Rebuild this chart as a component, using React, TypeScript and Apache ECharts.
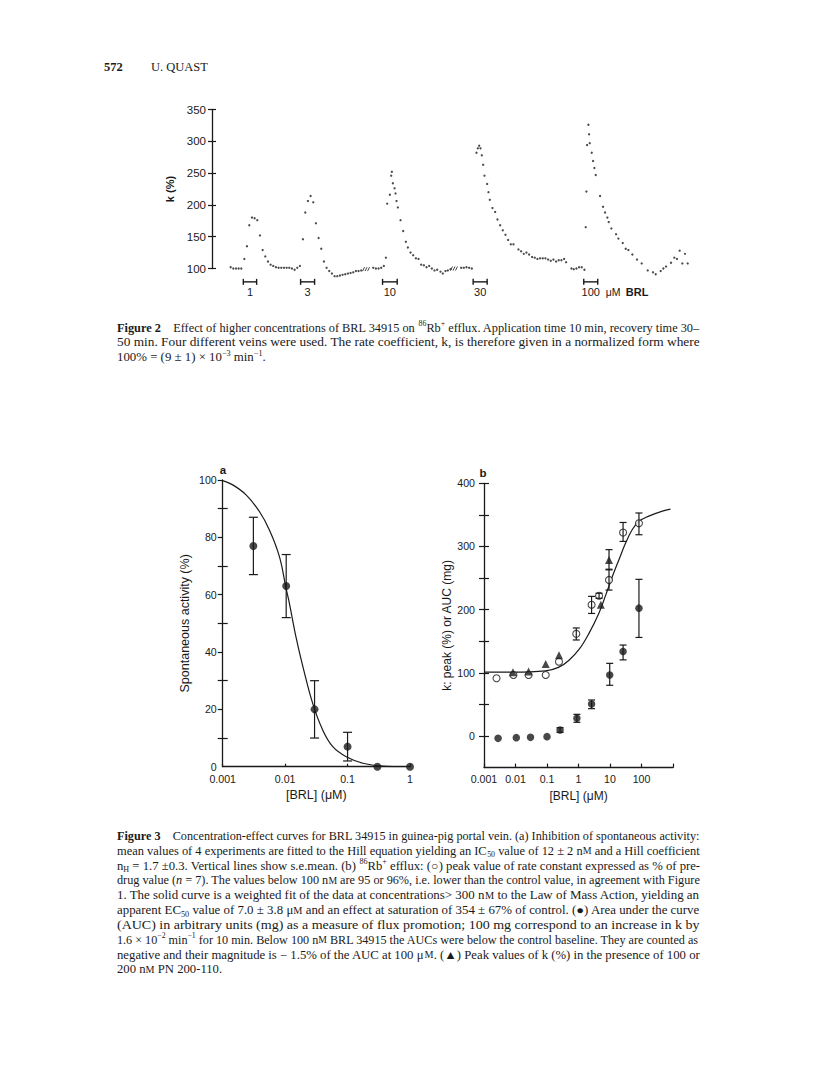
import React, { useEffect, useRef } from "react";
import * as echarts from "echarts";

const SANS = "Liberation Sans";
const SERIF = "Liberation Serif";
const INK = "#1a1a1a";

// ---------------- Figure 2: k (%) against time (min) ----------------
const trace1uM = [[0,102],[2,100],[4,100],[6,100],[8,100],[10.25,115],[12.25,135],[14,168],[16,180],[18,179],[20,176],[22,152],[24,129],[26,119],[28,111],[30,106],[32,104],[34,102],[36,101],[38,101],[40,101],[42,101],[44,101],[46,100],[48,98],[50,101],[52,104]];
const trace3uM = [[54.25,146],[56,188],[58,206],[60,214],[62,204],[64,171],[66,148],[68,131],[70,111],[72,101],[74,96],[76,92],[78,88],[80,88],[82,89],[84,90],[86,91],[88,92],[90,93],[92,94],[94,96],[96,96],[98,97],[107,101],[109,100],[111,100],[113,101],[115,104],[116.5,117]];
const trace10uM = [[117.5,202],[119.5,216],[120.5,246],[121,252],[121.75,234],[123,226],[123.75,218],[124.5,206],[125.5,196],[127.5,176],[129.5,159],[131.5,142],[133,133],[135,125],[137,121],[139,116],[141,115],[143,106],[145,105],[147,102],[149,104],[151,100],[153,97],[155,98],[157.5,95],[159.25,92],[161.25,96],[163,97],[165,99],[173,101],[175,101],[177,102],[179,101],[181,100]];
const trace30uM = [[184.5,282],[185.5,289],[186.5,293],[187.5,289],[188.5,278],[189.5,263],[190.5,246],[192.5,233],[193.5,220],[194.5,208],[196.5,195],[198.5,189],[200.25,177],[202.25,168],[204.25,160],[206.25,153],[208.25,145],[210.25,138],[212.25,138],[216,130],[218,127],[220,123],[222,125],[224,122],[226.25,118],[228.25,117],[230.25,115],[232.25,116],[234.25,116],[236.25,116],[238.25,114],[240.25,112],[242.25,114],[244.25,111],[246.25,113],[248.25,113],[250.25,115],[251.75,110],[255.75,100],[257.5,99],[259.5,100],[261.5,102],[263.5,102],[265.5,98]];
const trace100uM = [[266.5,165],[267,221],[267.5,294],[268.5,326],[269,311],[269.5,297],[271,282],[272,269],[273,258],[274,247],[277.25,214],[279.5,197],[281,188],[282.75,180],[283.75,173],[285.75,163],[289.25,154],[291,147],[294.25,140],[296.5,131],[298.5,129],[301.5,122],[305,114],[308.5,108],[313,97],[317,94],[319,91],[322.75,96],[324.75,100],[326.75,103],[330.5,109],[333,117],[335,115],[337,128],[339,108],[341,123],[343,108]];
// application periods (start, end in min) and concentration labels (µM)
const pulseStart = [9.5, 52.5, 114, 182, 265];
const pulseEnd = [19.5, 63, 125, 192.5, 275.5];
const pulseLabels = ["1", "3", "10", "30", "100"];
const pulseUnit = ["μM", "BRL"];
// breaks in the trace ("//")
const traceBreaks = [[102, 99], [168, 100]];
const PULSE_LEVEL = 79;

// ---------------- Figure 3a ----------------
const aConc = [0.0031, 0.0104, 0.0296, 0.1, 0.3, 1];
const aMean = [77, 63, 20, 7, 0, 0];
const aLow = [67, 52, 10, 2, null, null];
const aHigh = [87, 74, 30, 12, null, null];
const aFitConc = [0.001, 0.00145, 0.00237, 0.00387, 0.0056, 0.0081, 0.0104, 0.0117, 0.015, 0.0192, 0.0277, 0.04, 0.058, 0.095, 0.177, 0.33, 1];
const aFitValue = [99.8, 98.3, 94.8, 89, 82.6, 73.3, 62, 57, 45, 35, 22, 12.8, 7, 3.5, 1.2, 0.3, 0];

// ---------------- Figure 3b ----------------
const bPeakConc = [0.0025, 0.0086, 0.026, 0.091, 0.24, 0.85, 2.6, 4.5, 9.3, 26, 83];
const bPeak = [91.4, 96.6, 96.6, 96.6, 117.7, 161.7, 207.7, 222, 247, 322, 336.7];
const bPeakLow = [null, null, null, null, null, 152, 194, 218, 231, 308, 318.6];
const bPeakHigh = [null, null, null, null, null, 171, 221, 226, 264, 338, 353];
const bAucConc = [0.0028, 0.0106, 0.03, 0.1, 0.26, 0.89, 2.6, 9.8, 26, 83];
const bAuc = [-3.7, -2.6, -2.1, -1, 9.5, 28, 50.7, 96.7, 133.7, 202.4];
const bAucLow = [null, null, null, null, 5.8, 21.7, 43.3, 80.3, 120.5, 156];
const bAucHigh = [null, null, null, null, 13.2, 34.3, 57, 115, 144, 248];
const bPnConc = [0.0083, 0.026, 0.091, 0.24, 5.1, 9.3];
const bPn = [100.9, 102, 114, 128, 207.7, 278.6];
const bPnLow = [null, null, null, null, null, 263];
const bPnHigh = [null, null, null, null, null, 295];
const bFitConc = [0.001, 0.0079, 0.09, 0.24, 0.5, 1.04, 2.15, 4.4, 7.3, 11.8, 19.2, 31, 50, 83, 170, 460, 830];
const bFitValue = [101, 101, 103, 109, 120, 137, 162.5, 194, 223, 252, 279, 305, 326, 340, 348, 356, 359];

// ---------------- Texts ----------------
const pageNumber = "572";
const runningHead = "U. QUAST";
const fig2Caption = [
  "{b|Figure 2}\u2003Effect of higher concentrations of BRL 34915 on {sup|86}Rb{sup|+} efflux. Application time 10 min, recovery time 30–",
  "50 min. Four different veins were used. The rate coefficient, k, is therefore given in a normalized form where",
  "100% = (9 ± 1) × 10{sup|−3} min{sup|−1}.",
];
const fig3Caption = [
  "{b|Figure 3}\u2003Concentration-effect curves for BRL 34915 in guinea-pig portal vein. (a) Inhibition of spontaneous activity:",
  "mean values of 4 experiments are fitted to the Hill equation yielding an IC{sub|50} value of 12 ± 2 n{sc|M} and a Hill coefficient",
  "n{sub|H} = 1.7 ±0.3. Vertical lines show s.e.mean. (b) {sup|86}Rb{sup|+} efflux: (○) peak value of rate constant expressed as % of pre-",
  "drug value ({i|n} = 7). The values below 100 n{sc|M} are 95 or 96%, i.e. lower than the control value, in agreement with Figure",
  "1. The solid curve is a weighted fit of the data at concentrations> 300 n{sc|M} to the Law of Mass Action, yielding an",
  "apparent EC{sub|50} value of 7.0 ± 3.8 μ{sc|M} and an effect at saturation of 354 ± 67% of control. (●) Area under the curve",
  "(AUC) in arbitrary units (mg) as a measure of flux promotion; 100 mg correspond to an increase in k by",
  "1.6 × 10{sup|−2} min{sup|−1} for 10 min. Below 100 n{sc|M} BRL 34915 the AUCs were below the control baseline. They are counted as",
  "negative and their magnitude is − 1.5% of the AUC at 100 μ{sc|M}. (▲) Peak values of k (%) in the presence of 100 or",
  "200 n{sc|M} PN 200-110.",
];

const CAP_FS = 11.8;
const RICH: any = {
  b: { fontFamily: SERIF, fontSize: CAP_FS, fontWeight: "bold", lineHeight: 16, fill: INK },
  i: { fontFamily: SERIF, fontSize: CAP_FS, fontStyle: "italic", lineHeight: 16, fill: INK },
  sup: { fontFamily: SERIF, fontSize: 7.5, verticalAlign: "top", lineHeight: 9, fill: INK },
  sub: { fontFamily: SERIF, fontSize: 7.5, verticalAlign: "bottom", lineHeight: 12, fill: INK },
  sc: { fontFamily: SERIF, fontSize: 9.4, lineHeight: 16, fill: INK },
};

function makeMeasurer() {
  const cv = document.createElement("canvas");
  const ctx = cv.getContext("2d")!;
  const mw = (t: string, key: string | null) => {
    const st = key ? RICH[key] : { fontSize: CAP_FS };
    ctx.font = `${st.fontStyle || "normal"} ${st.fontWeight || "normal"} ${st.fontSize}px "${SERIF}"`;
    return ctx.measureText(t).width;
  };
  return (str: string) => {
    const re = /\{(\w+)\|([^}]*)\}/g;
    let last = 0;
    let w = 0;
    let m: RegExpExecArray | null;
    while ((m = re.exec(str))) {
      if (m.index > last) w += mw(str.slice(last, m.index), null);
      w += mw(m[2], m[1]);
      last = re.lastIndex;
    }
    if (last < str.length) w += mw(str.slice(last), null);
    return w;
  };
}

function paragraph(lines: string[], top: number, left: number, right: number, spacing: number, measure: (s: string) => number) {
  const widths = lines.map(measure);
  const scales = widths.map((w) => (right - left) / w);
  const body = scales.slice(0, -1);
  const avg = body.reduce((a, b) => a + b, 0) / Math.max(1, body.length);
  return lines.map((ln, i) => ({
    type: "text",
    x: left,
    y: top + i * spacing,
    scaleX: i === lines.length - 1 ? avg : scales[i],
    style: {
      text: ln,
      fill: INK,
      fontFamily: SERIF,
      fontSize: CAP_FS,
      lineHeight: 16,
      align: "left",
      verticalAlign: "middle",
      rich: RICH,
    },
  }));
}

function errorBars(conc: number[], low: (number | null)[], high: (number | null)[]) {
  const out: number[][] = [];
  conc.forEach((c, i) => {
    if (low[i] != null && high[i] != null) out.push([c, low[i] as number, high[i] as number]);
  });
  return out;
}

function errRender(cap: number) {
  return (params: any, api: any) => {
    const x = api.value(0);
    const p1 = api.coord([x, api.value(2)]);
    const p2 = api.coord([x, api.value(1)]);
    const st = { stroke: INK, lineWidth: 1.2 };
    return {
      type: "group",
      children: [
        { type: "line", shape: { x1: p1[0], y1: p1[1], x2: p2[0], y2: p2[1] }, style: st },
        { type: "line", shape: { x1: p1[0] - cap, y1: p1[1], x2: p1[0] + cap, y2: p1[1] }, style: st },
        { type: "line", shape: { x1: p2[0] - cap, y1: p2[1], x2: p2[0] + cap, y2: p2[1] }, style: st },
      ],
    };
  };
}

function buildOption() {
  const measure = makeMeasurer();
  const lineSt = { color: INK, width: 1.3 };
  const tickSt = { color: INK, width: 1.2 };
  const logFmt = (v: number) => (v >= 1000 ? "" : String(+v.toPrecision(3)));

  const fig2Points = [...trace1uM, ...trace3uM, ...trace10uM, ...trace30uM, ...trace100uM];
  const pulses = pulseStart.map((s, i) => [s, pulseEnd[i], PULSE_LEVEL]);

  const graphics: any[] = [
    { type: "text", x: 104, y: 67, style: { text: pageNumber, fontFamily: SERIF, fontWeight: "bold", fontSize: 12.5, fill: INK, align: "left", verticalAlign: "middle" } },
    { type: "text", x: 151, y: 67, style: { text: runningHead, fontFamily: SERIF, fontSize: 12.5, fill: INK, align: "left", verticalAlign: "middle" } },
    { type: "text", x: 223, y: 470, style: { text: "a", fontFamily: SANS, fontWeight: "bold", fontSize: 11.5, fill: INK, align: "center", verticalAlign: "middle" } },
    { type: "text", x: 483, y: 473, style: { text: "b", fontFamily: SANS, fontWeight: "bold", fontSize: 11.5, fill: INK, align: "center", verticalAlign: "middle" } },
    ...paragraph(fig2Caption, 328, 117, 700, 14.7, measure),
    ...paragraph(fig3Caption, 836, 117, 700, 14.85, measure),
  ];

  const tickFont = { fontSize: 10.6, color: INK, fontFamily: SANS };

  return {
    animation: false,
    backgroundColor: "#ffffff",
    textStyle: { fontFamily: SANS, color: INK },
    graphic: { elements: graphics },
    grid: [
      { left: 212, top: 109.5, width: 485, height: 159 },
      { left: 222.7, top: 480, width: 187.3, height: 286.7 },
      { left: 484, top: 483.3, width: 189, height: 284.3 },
    ],
    xAxis: [
      { type: "value", gridIndex: 0, min: -14, max: 350, show: false },
      {
        type: "log", gridIndex: 1, logBase: 10, min: 0.001, max: 1, splitNumber: 3,
        axisLine: { show: true, onZero: false, lineStyle: lineSt },
        axisTick: { show: true, inside: true, length: 3, lineStyle: tickSt },
        axisLabel: { ...tickFont, margin: 7, formatter: logFmt },
        splitLine: { show: false }, minorTick: { show: false },
        name: "[BRL] (μM)", nameLocation: "middle", nameGap: 22,
        nameTextStyle: { fontSize: 12.5, fontFamily: SANS, color: INK },
      },
      {
        type: "log", gridIndex: 2, logBase: 10, min: 0.001, max: 1000, splitNumber: 6,
        axisLine: { show: true, onZero: false, lineStyle: lineSt },
        axisTick: { show: true, inside: true, length: 4, lineStyle: tickSt },
        axisLabel: { ...tickFont, margin: 6, formatter: logFmt },
        splitLine: { show: false }, minorTick: { show: false },
        name: "[BRL] (μM)", nameLocation: "middle", nameGap: 22,
        nameTextStyle: { fontSize: 12, fontFamily: SANS, color: INK },
      },
    ],
    yAxis: [
      {
        type: "value", gridIndex: 0, position: "left", min: 100, max: 350, interval: 50,
        axisLine: { show: true, onZero: false, lineStyle: lineSt },
        axisTick: { show: true, length: 4, lineStyle: tickSt },
        axisLabel: { fontSize: 11.5, color: INK, fontFamily: SANS, margin: 6 },
        splitLine: { show: false },
        name: "k (%)", nameLocation: "middle", nameGap: 34, nameRotate: 90,
        nameTextStyle: { fontSize: 11, fontWeight: "bold", fontFamily: SANS, color: INK },
      },
      {
        type: "value", gridIndex: 0, position: "left", min: 100, max: 350, interval: 50,
        axisLine: { show: false, onZero: false },
        axisTick: { show: true, inside: true, length: 4, lineStyle: tickSt },
        axisLabel: { show: false }, splitLine: { show: false },
      },
      {
        type: "value", gridIndex: 1, position: "left", min: 0, max: 100, interval: 20,
        axisLine: { show: true, onZero: false, lineStyle: lineSt },
        axisTick: { show: true, length: 5, lineStyle: tickSt, customValues: [10, 20, 30, 40, 50, 60, 70, 80, 90, 100] },
        axisLabel: { ...tickFont, margin: 6 },
        splitLine: { show: false },
        name: "Spontaneous activity (%)", nameLocation: "middle", nameGap: 31, nameRotate: 90,
        nameTextStyle: { fontSize: 12.5, fontFamily: SANS, color: INK },
      },
      {
        type: "value", gridIndex: 1, position: "left", min: 0, max: 100, interval: 20,
        axisLine: { show: false, onZero: false },
        axisTick: { show: true, inside: true, length: 5, lineStyle: tickSt, customValues: [10, 30, 50, 70, 90] },
        axisLabel: { show: false }, splitLine: { show: false },
      },
      {
        type: "value", gridIndex: 2, position: "left", min: -50, max: 400, interval: 50,
        axisLine: { show: true, onZero: false, lineStyle: lineSt },
        axisTick: { show: true, length: 5, lineStyle: tickSt, customValues: [0, 50, 100, 150, 200, 250, 300, 350, 400] },
        axisLabel: { ...tickFont, margin: 9, customValues: [0, 100, 200, 300, 400] },
        splitLine: { show: false },
        name: "k: peak (%) or AUC (mg)", nameLocation: "middle", nameGap: 28, nameRotate: 90,
        nameTextStyle: { fontSize: 12, fontFamily: SANS, color: INK },
      },
      {
        type: "value", gridIndex: 2, position: "left", min: -50, max: 400, interval: 50,
        axisLine: { show: false, onZero: false },
        axisTick: { show: true, inside: true, length: 5, lineStyle: tickSt, customValues: [0, 50, 100, 150, 200, 250, 300, 350, 400] },
        axisLabel: { show: false }, splitLine: { show: false },
      },
    ],
    series: [
      // ---- Figure 2 ----
      {
        type: "scatter", xAxisIndex: 0, yAxisIndex: 0, data: fig2Points,
        symbol: "circle", symbolSize: 2.3, itemStyle: { color: "#1e1e1e" }, clip: false, silent: true,
      },
      {
        type: "custom", xAxisIndex: 0, yAxisIndex: 0, data: pulses, encode: { x: [0, 1], y: 2 }, clip: false,
        renderItem: (params: any, api: any) => {
          const s = api.coord([api.value(0), api.value(2)]);
          const e = api.coord([api.value(1), api.value(2)]);
          const y = s[1];
          const cx = (s[0] + e[0]) / 2;
          const st = { stroke: INK, lineWidth: 1.4 };
          const children: any[] = [
            { type: "line", shape: { x1: s[0], y1: y, x2: e[0], y2: y }, style: st },
            { type: "line", shape: { x1: s[0], y1: y - 3, x2: s[0], y2: y + 3 }, style: st },
            { type: "line", shape: { x1: e[0], y1: y - 3, x2: e[0], y2: y + 3 }, style: st },
            { type: "text", x: cx, y: y + 10.5, style: { text: pulseLabels[params.dataIndex], fontFamily: SANS, fontSize: 11, fill: INK, align: "center", verticalAlign: "middle" } },
          ];
          if (params.dataIndex === pulseLabels.length - 1) {
            children.push({ type: "text", x: cx + 15, y: y + 10.5, style: { text: pulseUnit[0], fontFamily: SANS, fontSize: 10.5, fill: INK, align: "left", verticalAlign: "middle" } });
            children.push({ type: "text", x: cx + 35, y: y + 10.5, style: { text: pulseUnit[1], fontFamily: SANS, fontWeight: "bold", fontSize: 11, fill: INK, align: "left", verticalAlign: "middle" } });
          }
          return { type: "group", children };
        },
      },
      {
        type: "custom", xAxisIndex: 0, yAxisIndex: 0, data: traceBreaks, clip: false,
        renderItem: (params: any, api: any) => {
          const p = api.coord([api.value(0), api.value(1)]);
          const st = { stroke: "#333", lineWidth: 0.9 };
          return {
            type: "group",
            children: [0, 1, 2].map((k) => ({
              type: "line",
              shape: { x1: p[0] - 4 + k * 2.5, y1: p[1] + 2, x2: p[0] - 2 + k * 2.5, y2: p[1] - 2 },
              style: st,
            })),
          };
        },
      },
      // ---- Figure 3a ----
      {
        type: "line", xAxisIndex: 1, yAxisIndex: 2, data: aFitConc.map((c, i) => [c, aFitValue[i]]),
        showSymbol: false, symbol: "none", smooth: 0.4, lineStyle: { color: INK, width: 1.2 }, silent: true,
      },
      {
        type: "custom", xAxisIndex: 1, yAxisIndex: 2, data: errorBars(aConc, aLow, aHigh),
        encode: { x: 0, y: [1, 2] }, renderItem: errRender(4.5),
      },
      {
        type: "scatter", xAxisIndex: 1, yAxisIndex: 2, data: aConc.map((c, i) => [c, aMean[i]]),
        symbol: "circle", symbolSize: 8, itemStyle: { color: INK }, clip: false, z: 5,
      },
      // ---- Figure 3b ----
      {
        type: "line", xAxisIndex: 2, yAxisIndex: 4, data: bFitConc.map((c, i) => [c, bFitValue[i]]),
        showSymbol: false, symbol: "none", smooth: 0.4, lineStyle: { color: INK, width: 1.2 }, silent: true,
      },
      {
        type: "custom", xAxisIndex: 2, yAxisIndex: 4, data: errorBars(bAucConc, bAucLow, bAucHigh),
        encode: { x: 0, y: [1, 2] }, renderItem: errRender(3.5),
      },
      {
        type: "scatter", xAxisIndex: 2, yAxisIndex: 4, data: bAucConc.map((c, i) => [c, bAuc[i]]),
        symbol: "circle", symbolSize: 7.5, itemStyle: { color: INK }, clip: false, z: 5,
      },
      {
        type: "scatter", xAxisIndex: 2, yAxisIndex: 4, data: bPeakConc.map((c, i) => [c, bPeak[i]]),
        symbol: "circle", symbolSize: 7, itemStyle: { color: "#ffffff", borderColor: INK, borderWidth: 1.1 }, clip: false, z: 5,
      },
      {
        type: "scatter", xAxisIndex: 2, yAxisIndex: 4, data: bPnConc.map((c, i) => [c, bPn[i]]),
        symbol: "triangle", symbolSize: 8, itemStyle: { color: INK }, clip: false, z: 6,
      },
      {
        type: "custom", xAxisIndex: 2, yAxisIndex: 4,
        data: [...errorBars(bPeakConc, bPeakLow, bPeakHigh), ...errorBars(bPnConc, bPnLow, bPnHigh)],
        encode: { x: 0, y: [1, 2] }, renderItem: errRender(3.5), z: 7,
      },
    ],
  };
}

export default function App() {
  const ref = useRef<HTMLDivElement>(null);
  useEffect(() => {
    const el = ref.current;
    if (!el) return;
    const chart = echarts.init(el, null, { renderer: "svg" });
    chart.setOption(buildOption() as any);
    return () => chart.dispose();
  }, []);
  return (
    <div
      ref={ref}
      style={{ position: "absolute", left: 0, top: 0, width: 816, height: 1073, background: "#ffffff" }}
    />
  );
}
